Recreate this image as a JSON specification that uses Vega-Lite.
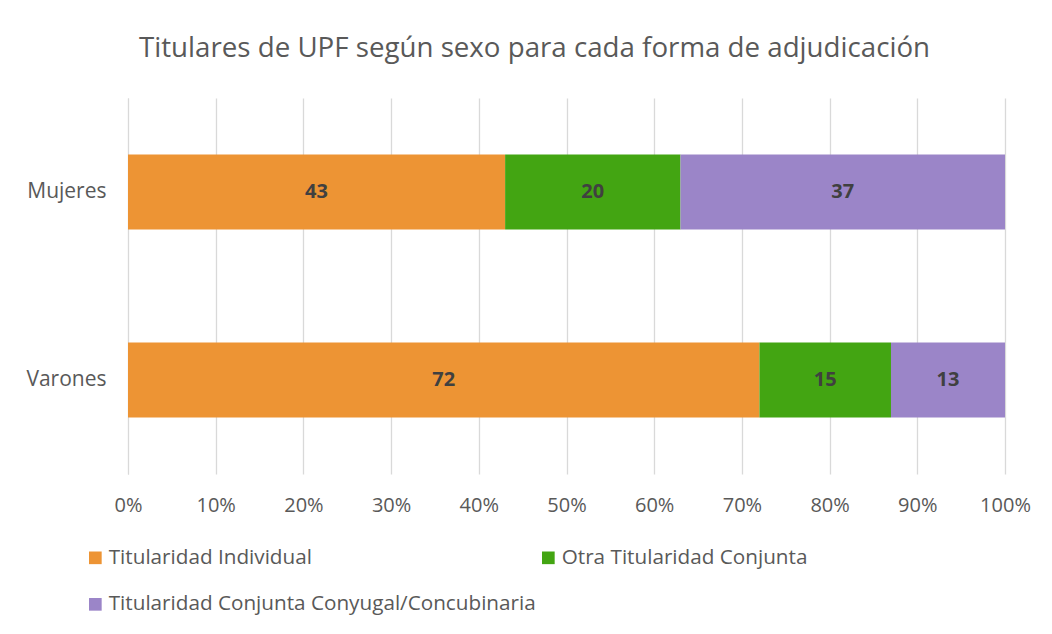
{
  "$schema": "https://vega.github.io/schema/vega-lite/v6.json",
  "autosize": "none",
  "width": 877,
  "height": 376,
  "padding": {"left": 128, "top": 98, "right": 47, "bottom": 160},
  "background": "white",
  "config": {"font": "Open Sans", "view": {"stroke": null}},
  "title": {"text": "Titulares de UPF según sexo para cada forma de adjudicación", "fontSize": 27.7, "fontWeight": "normal", "color": "#595959", "anchor": "middle", "dx": -32, "offset": 35, "font": "Open Sans"},
  "data": {"values": [
    {"sexo": "Mujeres", "forma": "Titularidad Individual", "orden": 1, "valor": 43},
    {"sexo": "Mujeres", "forma": "Otra Titularidad Conjunta", "orden": 2, "valor": 20},
    {"sexo": "Mujeres", "forma": "Titularidad Conjunta Conyugal/Concubinaria", "orden": 3, "valor": 37},
    {"sexo": "Varones", "forma": "Titularidad Individual", "orden": 1, "valor": 72},
    {"sexo": "Varones", "forma": "Otra Titularidad Conjunta", "orden": 2, "valor": 15},
    {"sexo": "Varones", "forma": "Titularidad Conjunta Conyugal/Concubinaria", "orden": 3, "valor": 13}
  ]},
  "transform": [
    {"stack": "valor", "groupby": ["sexo"], "sort": [{"field": "orden"}], "as": ["x0", "x1"], "offset": "normalize"},
    {"calculate": "(datum.x0 + datum.x1) / 2", "as": "xmid"}
  ],
  "encoding": {
    "y": {"field": "sexo", "type": "nominal", "sort": ["Mujeres", "Varones"], "title": null,
      "scale": {"paddingInner": 0.6, "paddingOuter": 0.3},
      "axis": {"ticks": false, "domainColor": "#d9d9d9", "labelFontSize": 21, "labelColor": "#595959", "labelPadding": 22}}
  },
  "layer": [
    {
      "mark": {"type": "bar"},
      "encoding": {
        "x": {"field": "x0", "type": "quantitative", "title": null,
          "scale": {"domain": [0, 1], "nice": false},
          "axis": {"format": ".0%", "values": [0,0.1,0.2,0.3,0.4,0.5,0.6,0.7,0.8,0.9,1], "labelOverlap": false, "labelFlush": false, "domain": false, "ticks": false, "gridColor": "#d9d9d9", "gridWidth": 1.3, "labelFontSize": 20, "labelColor": "#595959", "labelPadding": 21}},
        "x2": {"field": "x1"},
        "color": {"field": "forma", "type": "nominal", "title": null,
          "sort": ["Titularidad Individual", "Otra Titularidad Conjunta", "Titularidad Conjunta Conyugal/Concubinaria"],
          "scale": {"domain": ["Titularidad Individual", "Otra Titularidad Conjunta", "Titularidad Conjunta Conyugal/Concubinaria"], "range": ["#ED9434", "#43A512", "#9B85C8"]},
          "legend": {"orient": "none", "legendX": -43, "legendY": 449, "direction": "horizontal", "columns": 2, "columnPadding": 2, "rowPadding": 25, "symbolType": "square", "symbolSize": 160, "symbolStrokeWidth": 0, "labelFontSize": 20.7, "labelColor": "#595959", "labelLimit": 600, "symbolOffset": 0, "labelOffset": 3}}
      }
    },
    {
      "mark": {"type": "text", "fontWeight": "bold", "fontSize": 20, "color": "#404040"},
      "encoding": {
        "x": {"field": "xmid", "type": "quantitative"},
        "text": {"field": "valor", "type": "quantitative"}
      }
    }
  ]
}
